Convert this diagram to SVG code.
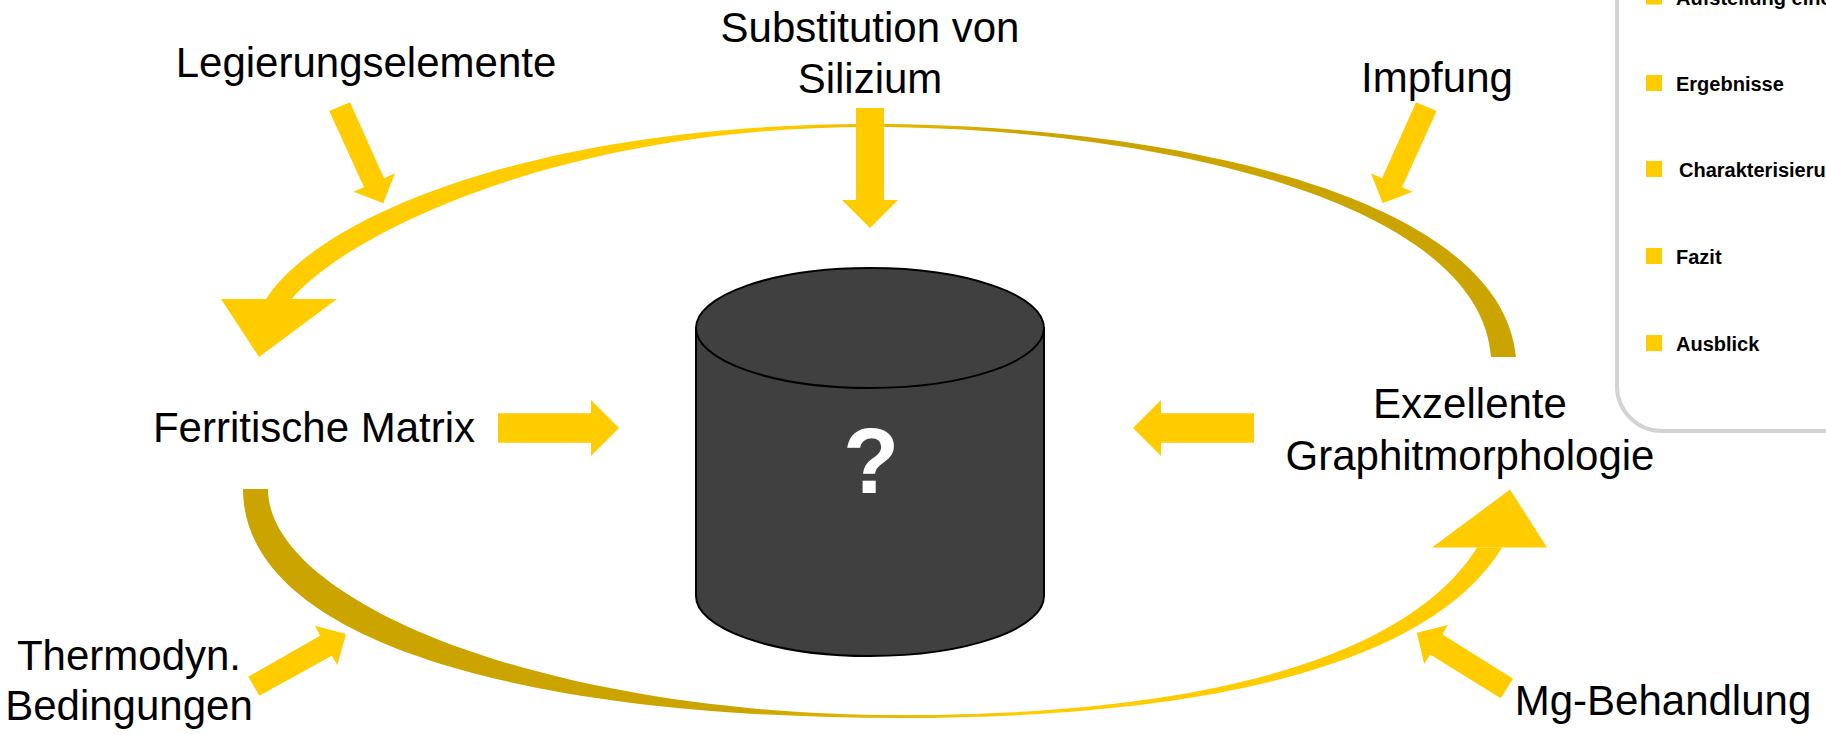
<svg xmlns="http://www.w3.org/2000/svg" width="1826" height="735" viewBox="0 0 1826 735">
  <style>
    .lbl { font-family: "Liberation Sans", Arial, sans-serif; font-size: 42px; fill: #000; text-anchor: middle; }
    .item { font-family: "Liberation Sans", Arial, sans-serif; font-size: 20px; font-weight: bold; fill: #000; }
    .yel { fill: #FFCC00; }
    .bullet { fill: #FFCC00; }
  </style>
  <defs>
    <linearGradient id="gTop" gradientUnits="userSpaceOnUse" x1="221" y1="0" x2="1516" y2="0">
      <stop offset="0" stop-color="#FFCC00"/>
      <stop offset="0.42" stop-color="#FFCC00"/>
      <stop offset="0.62" stop-color="#CCA400"/>
      <stop offset="1" stop-color="#CCA400"/>
    </linearGradient>
    <linearGradient id="gBot" gradientUnits="userSpaceOnUse" x1="243" y1="0" x2="1547" y2="0">
      <stop offset="0" stop-color="#CCA400"/>
      <stop offset="0.38" stop-color="#CCA400"/>
      <stop offset="0.6" stop-color="#FFCC00"/>
      <stop offset="1" stop-color="#FFCC00"/>
    </linearGradient>
  </defs>
  <rect width="1826" height="735" fill="#fff"/>

  <g id="panel">
    <rect x="1617" y="-60" width="320" height="491" rx="45" ry="45" fill="#fff" stroke="#D3D3D3" stroke-width="4"/>
    <rect class="bullet" x="1646" y="-11.5" width="16" height="16"/>
    <text class="item" x="1676" y="4.5">Aufstellung eines</text>
    <rect class="bullet" x="1646" y="75" width="16" height="16"/>
    <text class="item" x="1676" y="91">Ergebnisse</text>
    <rect class="bullet" x="1646" y="161" width="16" height="16"/>
    <text class="item" x="1679" y="177">Charakterisierung</text>
    <rect class="bullet" x="1646" y="248" width="16" height="16"/>
    <text class="item" x="1676" y="264">Fazit</text>
    <rect class="bullet" x="1646" y="335" width="16" height="16"/>
    <text class="item" x="1676" y="351">Ausblick</text>
  </g>

  <g id="cylinder">
    <path d="M696,328 L696,596 A174,60 0 0 0 1044,596 L1044,328" fill="#404040" stroke="#000" stroke-width="2"/>
    <ellipse cx="870" cy="328" rx="174" ry="60" fill="#404040" stroke="#000" stroke-width="2"/>
    <text x="871" y="493" font-family="Liberation Sans, Arial, sans-serif" font-size="92" font-weight="bold" fill="#fff" text-anchor="middle">?</text>
  </g>

  <g id="connectors">
    <path id="arcTop" fill="url(#gTop)" d="M266,299 C320,215 540,124 870,124 C1150,124 1500,190 1516,357 L1491,357 C1480,200 1150,127 870,127 C560,127 345,235 291.7,299 Z"/>
    <polygon class="yel" points="221,299 337,299 259,357"/>
    <path id="arcBot" fill="url(#gBot)" d="M243,489 C243,640 520,718 900,718 C1250,718 1440,650 1502,547.5 L1477,547.5 C1420,640 1250,715 900,715 C540,715 268,600 268,489 Z"/>
    <polygon class="yel" points="1432,547.5 1547,547.5 1510,489.5"/>

    <polygon class="yel" points="350,102.3 384,178.3 395,173.3 383.3,203.3 353.3,191.7 364,187.3 329.3,111"/>
    <polygon class="yel" points="1416,102.3 1382,178.3 1371,173.3 1382.7,203.3 1412.7,191.7 1402,187.3 1436.7,111"/>
    <polygon class="yel" points="856,108 884,108 884,200 898,200 870,228 842,200 856,200"/>
    <polygon class="yel" points="498,413.3 591,413.3 591,400 619,428 591,456 591,442.7 498,442.7"/>
    <polygon class="yel" points="1254,413.3 1161,413.3 1161,400 1133,428 1161,456 1161,442.7 1254,442.7"/>
    <polygon class="yel" points="248.3,676.7 320,635.7 315,625.7 346,634 337.3,665 331.7,655.7 259.3,695.7"/>
    <polygon class="yel" points="1513,678.7 1442.6,634.4 1447.7,625 1416.8,632.8 1424.2,664 1430.2,654.6 1500.7,698.2"/>
  </g>

  <g id="n-legierung"><text class="lbl" x="366" y="77">Legierungselemente</text></g>
  <g id="n-silizium">
    <text class="lbl" x="870" y="42">Substitution von</text>
    <text class="lbl" x="870" y="93">Silizium</text>
  </g>
  <g id="n-impfung"><text class="lbl" x="1437" y="92">Impfung</text></g>
  <g id="n-ferrit"><text class="lbl" x="314" y="442">Ferritische Matrix</text></g>
  <g id="n-graphit">
    <text class="lbl" x="1470" y="418">Exzellente</text>
    <text class="lbl" x="1470" y="470">Graphitmorphologie</text>
  </g>
  <g id="n-thermo">
    <text class="lbl" x="129" y="670">Thermodyn.</text>
    <text class="lbl" x="129" y="720">Bedingungen</text>
  </g>
  <g id="n-mg"><text class="lbl" x="1663" y="715">Mg-Behandlung</text></g>
</svg>
